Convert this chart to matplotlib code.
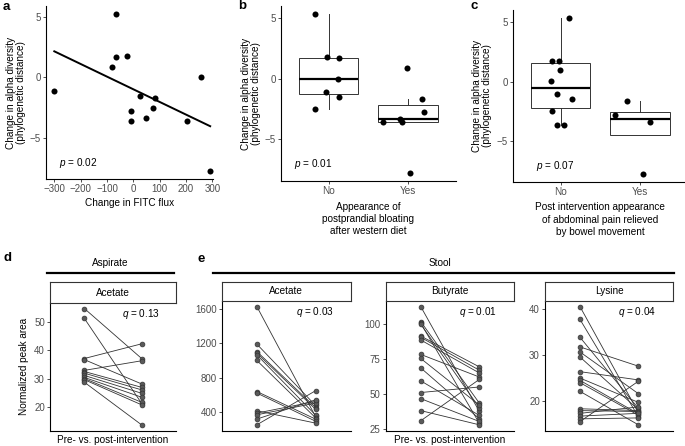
import matplotlib
matplotlib.use("Agg")
import matplotlib.pyplot as plt
from matplotlib.lines import Line2D
import numpy as np

plt.rcParams["font.family"] = ["Liberation Sans", "DejaVu Sans"]
plt.rcParams["mathtext.fontset"] = "custom"
plt.rcParams["mathtext.it"] = "Liberation Sans:italic"
plt.rcParams["mathtext.rm"] = "Liberation Sans"

# ---- data ----
# a: FITC flux vs alpha diversity change
fitc_flux = [-300, -66, -66, -80, -25, -8, -8, 25, 50, 75, 82, 205, 258, 292]
alpha_a = [-1.1, 5.3, 1.7, 0.9, 1.75, -2.75, -3.6, -1.5, -3.4, -2.5, -1.7, -3.6, 0.0, -7.8]

# b: postprandial bloating (No / Yes)
bloat_no = [5.31, 1.76, 1.7, 0.0, -1.1, -1.48, -2.5]
bloat_yes = [0.93, -1.65, -2.73, -3.6, -3.33, -3.6, -7.77]
bloat_no_jit = [-0.17, -0.02, 0.125, 0.118, -0.03, 0.134, -0.166]
bloat_yes_jit = [-0.01, 0.18, 0.2, -0.31, -0.10, -0.07, 0.02]

# c: abdominal pain relieved by bowel movement (No / Yes)
pain_no = [5.34, 1.73, 1.73, 0.95, 0.03, -1.06, -1.45, -2.46, -3.63, -3.63]
pain_yes = [-1.65, -2.8, -3.38, -7.74]
pain_no_jit = [0.11, -0.11, -0.02, -0.005, -0.12, -0.05, 0.14, -0.11, -0.05, 0.04]
pain_yes_jit = [-0.16, -0.32, 0.12, 0.03]

# d: aspirate acetate, pre -> post
asp_acetate_pre = [54.8, 51.3, 37.1, 36.7, 32.9, 32.5, 31.9, 31.1, 30.4, 30.0, 29.6, 28.7]
asp_acetate_post = [37.1, 21.2, 42.3, 28.1, 36.3, 26.9, 26.0, 24.8, 23.4, 21.6, 20.7, 13.6]

# e: stool, pre -> post
stool_acetate_pre = [1630, 1191, 1105, 1086, 1066, 1000, 637, 619, 412, 385, 365, 315, 248]
stool_acetate_post = [345, 474, 450, 430, 362, 330, 315, 290, 268, 521, 502, 540, 646]
butyrate_pre = [112.7, 101.9, 100.7, 100.0, 91.5, 90.6, 88.7, 78.3, 75.4, 68.6, 59.3, 50.9, 46.5, 37.9, 30.6]
butyrate_post = [37.4, 43.4, 28.9, 40.0, 69.4, 67.0, 65.0, 62.1, 41.9, 32.1, 34.5, 54.9, 30.1, 27.7, 60.3]
lysine_pre = [40.5, 37.7, 33.8, 31.7, 30.6, 29.5, 26.3, 24.9, 24.4, 23.9, 22.0, 18.2, 17.8, 17.2, 16.6, 16.0, 15.4]
lysine_post = [17.4, 16.5, 18.3, 27.5, 21.5, 18.0, 24.5, 19.6, 17.1, 16.8, 14.7, 17.8, 17.6, 18.6, 17.2, 16.2, 24.2]

W, H = 685, 446
fig = plt.figure(figsize=(W / 100, H / 100), dpi=100)


def px_rect(l, t, r, b):
    return [l / W, 1 - b / H, (r - l) / W, (b - t) / H]


def style(ax):
    for s in ["top", "right"]:
        ax.spines[s].set_visible(False)
    for s in ["left", "bottom"]:
        ax.spines[s].set_linewidth(0.8)
        ax.spines[s].set_color("black")
    ax.tick_params(labelsize=7, labelcolor="#4d4d4d", color="#333333",
                   length=2.2, width=0.6, pad=1.5)


def pad_lim(vals):
    lo, hi = min(vals), max(vals)
    d = (hi - lo) * 0.05
    return lo - d, hi + d


ylab = "Change in alpha diversity\n(phylogenetic distance)"

# ---- a ----
ax = fig.add_axes(px_rect(46, 6, 213, 179))
style(ax)
ax.scatter(fitc_flux, alpha_a, s=19, color="black", zorder=3, linewidths=0)
k, b0 = np.polyfit(fitc_flux, alpha_a, 1)
xs = np.array([min(fitc_flux), max(fitc_flux)])
ax.plot(xs, k * xs + b0, color="black", lw=1.4)
ax.set_xlim(-331.5, 302.7)
ax.set_ylim(*pad_lim(alpha_a))
ax.set_xticks([-300, -200, -100, 0, 100, 200, 300])
ax.set_yticks([-5, 0, 5])
ax.set_xlabel("Change in FITC flux", fontsize=7.2, labelpad=3)
ax.set_ylabel(ylab, fontsize=7.2, labelpad=3, linespacing=1.0)
ax.text(-281, -7.1, r"$p$ = 0.02", fontsize=7.2, va="center")


def box_panel(rect, no, yes, no_jit, yes_jit, xlabel, ptxt, px):
    ax = fig.add_axes(px_rect(*rect))
    style(ax)
    ax.boxplot([no, yes], positions=[1, 2], widths=0.75, showfliers=False,
               showcaps=False, patch_artist=True,
               boxprops=dict(facecolor="white", edgecolor="#333333", lw=0.7),
               whiskerprops=dict(color="#333333", lw=0.7),
               medianprops=dict(color="black", lw=1.6))
    ax.scatter(1 + np.array(no_jit), no, s=19, color="black", zorder=3, linewidths=0)
    ax.scatter(2 + np.array(yes_jit), yes, s=19, color="black", zorder=3, linewidths=0)
    ax.set_xlim(0.4, 2.6)
    ax.set_ylim(*pad_lim(no + yes))
    ax.set_xticks([1, 2])
    ax.set_xticklabels(["No", "Yes"], fontsize=7.2)
    ax.set_yticks([-5, 0, 5])
    ax.set_xlabel(xlabel, fontsize=7.2, labelpad=4, linespacing=1.3)
    ax.set_ylabel(ylab, fontsize=7.2, labelpad=3, linespacing=1.0)
    ax.text(px, -7.05, ptxt, fontsize=7.2, va="center")
    return ax


box_panel((281, 6.5, 455.6, 181), bloat_no, bloat_yes, bloat_no_jit, bloat_yes_jit,
          "Appearance of\npostprandial bloating\nafter western diet", r"$p$ = 0.01", 0.565)
box_panel((512.7, 10.2, 688, 181.8), pain_no, pain_yes, pain_no_jit, pain_yes_jit,
          "Post intervention appearance\nof abdominal pain relieved\nby bowel movement",
          r"$p$ = 0.07", 0.69)


def paired_panel(rect, strip_top, pre, post, title, qtxt, yticks):
    l, t, r, b = rect
    ax = fig.add_axes(px_rect(l, t, r, b))
    style(ax)
    for a, c in zip(pre, post):
        ax.plot([1, 2], [a, c], color="#333333", lw=0.6, zorder=2)
    ax.scatter([1] * len(pre), pre, s=12, color="#5a5a5a", edgecolors="#333333",
               linewidths=0.5, zorder=3)
    ax.scatter([2] * len(post), post, s=12, color="#5a5a5a", edgecolors="#333333",
               linewidths=0.5, zorder=3)
    ax.set_xlim(0.4, 2.6)
    ax.set_ylim(*pad_lim(pre + post))
    ax.set_xticks([])
    ax.set_yticks(yticks)
    ax.text(0.72, 0.915, qtxt, transform=ax.transAxes, ha="center", va="center",
            fontsize=7.2)
    st = fig.add_axes(px_rect(l, strip_top, r, t))
    st.set_xticks([])
    st.set_yticks([])
    for s in st.spines.values():
        s.set_linewidth(0.8)
        s.set_color("#333333")
    st.text(0.5, 0.5, title, ha="center", va="center", fontsize=7.2,
            transform=st.transAxes)
    return ax


ax_d = paired_panel((50, 302.7, 176, 430.7), 282.3, asp_acetate_pre, asp_acetate_post,
                    "Acetate", r"$q$ = 0.13", [20, 30, 40, 50])
ax_d.set_xlabel("Pre- vs. post-intervention", fontsize=7.2, labelpad=3)
ax_d.set_ylabel("Normalized peak area", fontsize=7.2, labelpad=4)

paired_panel((221.7, 300.7, 350.7, 430.7), 281.7, stool_acetate_pre, stool_acetate_post,
             "Acetate", r"$q$ = 0.03", [400, 800, 1200, 1600])
ax_b = paired_panel((385.7, 300.7, 514.3, 430.7), 281.7, butyrate_pre, butyrate_post,
                    "Butyrate", r"$q$ = 0.01", [25, 50, 75, 100])
ax_b.set_xlabel("Pre- vs. post-intervention", fontsize=7.2, labelpad=3)
paired_panel((545, 300.7, 673.3, 430.7), 281.7, lysine_pre, lysine_post,
             "Lysine", r"$q$ = 0.04", [20, 30, 40])

# group headers
fig.text(110 / W, 1 - 263.3 / H, "Aspirate", ha="center", va="center", fontsize=7.2)
fig.add_artist(Line2D([46.7 / W, 174 / W], [1 - 273.3 / H] * 2, color="black", lw=1.6))
fig.text(440 / W, 1 - 263.3 / H, "Stool", ha="center", va="center", fontsize=7.2)
fig.add_artist(Line2D([213.3 / W, 674 / W], [1 - 273.3 / H] * 2, color="black", lw=1.6))

# panel letters
for lab, x, y in [("a", 3, 7), ("b", 238, 6), ("c", 470, 6), ("d", 3, 258), ("e", 197, 259)]:
    fig.text(x / W, 1 - y / H, lab, ha="left", va="center", fontsize=9.5, fontweight="bold")

fig.savefig("out.png", dpi=100)
